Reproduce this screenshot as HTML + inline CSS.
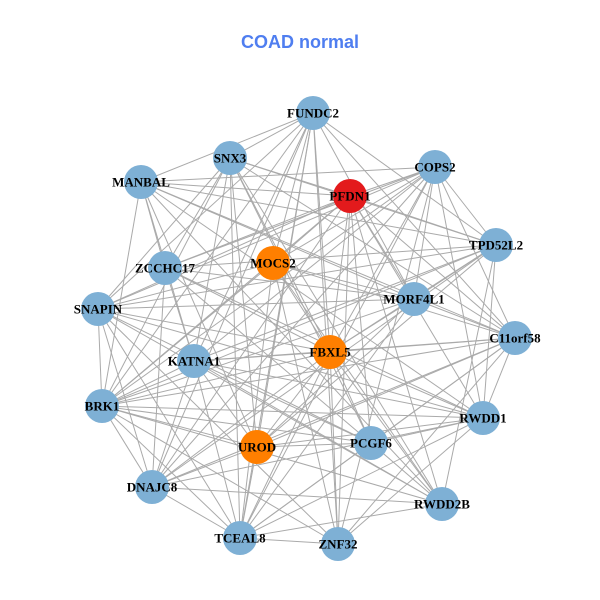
<!DOCTYPE html>
<html><head><meta charset="utf-8"><style>
html,body{margin:0;padding:0;background:#fff;width:600px;height:600px;overflow:hidden}
text{font-family:"Liberation Serif",serif;font-weight:bold;font-size:13px;text-anchor:middle;dominant-baseline:central}
</style></head><body>
<svg id="s" width="600" height="600" viewBox="0 0 600 600" xmlns="http://www.w3.org/2000/svg">
<text x="300" y="42" style="font-family:'Liberation Sans',sans-serif;font-size:18px;fill:#4f7ef0">COAD normal</text>
<g id="e" stroke="#aaaaaa" stroke-width="1"></g>
<g id="n"></g>
</svg>
<script>
var N=[["FUNDC2",313,113,0],["SNX3",230,158,0],["MANBAL",141,182,0],["COPS2",435,167,0],["PFDN1",350,196,2],["TPD52L2",496,245,0],["MOCS2",273,263,1],["ZCCHC17",165,268,0],["SNAPIN",98,309,0],["MORF4L1",414,299,0],["C11orf58",515,338,0],["FBXL5",330,352,1],["KATNA1",194,361,0],["BRK1",102,406,0],["RWDD1",483,418,0],["UROD",257,447,1],["PCGF6",371,443,0],["DNAJC8",152,487,0],["RWDD2B",442,504,0],["TCEAL8",240,538,0],["ZNF32",338,544,0]];
var C=["#7eb0d5","#ff7f00","#e31a1c"];
var ns="http://www.w3.org/2000/svg",eg=document.getElementById("e"),ng=document.getElementById("n");
var seed=7;function r(){seed=(seed*9301+49297)%233280;return seed/233280;}
for(var i=0;i<N.length;i++)for(var j=i+1;j<N.length;j++){
 if(r()<0.27)continue;
 var l=document.createElementNS(ns,"line");
 l.setAttribute("x1",N[i][1]);l.setAttribute("y1",N[i][2]);l.setAttribute("x2",N[j][1]);l.setAttribute("y2",N[j][2]);eg.appendChild(l);}
N.forEach(function(d){
 var c=document.createElementNS(ns,"circle");c.setAttribute("cx",d[1]);c.setAttribute("cy",d[2]);c.setAttribute("r",17);c.setAttribute("fill",C[d[3]]);ng.appendChild(c);});
N.forEach(function(d){
 var t=document.createElementNS(ns,"text");t.setAttribute("x",d[1]);t.setAttribute("y",d[2]);t.textContent=d[0];ng.appendChild(t);});
</script>
</body></html>
